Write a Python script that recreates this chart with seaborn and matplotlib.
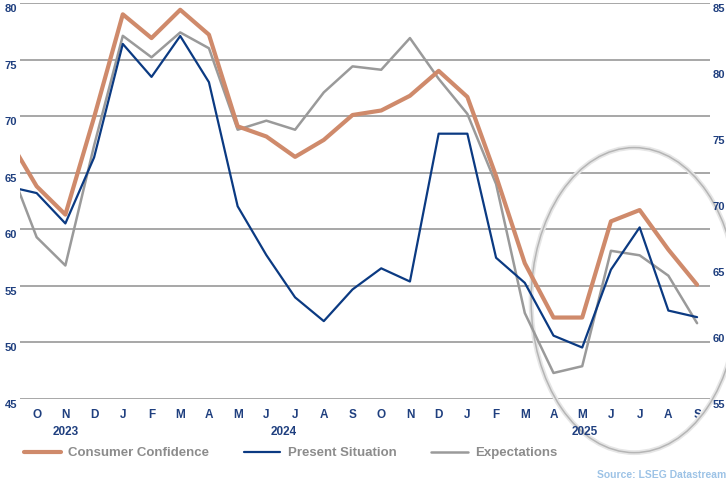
import pandas as pd
import matplotlib
matplotlib.use("Agg")
import matplotlib.pyplot as plt
import matplotlib.transforms as mtransforms
from matplotlib.patches import Ellipse
import seaborn as sns

# monthly series, Sep 2023 .. Sep 2025 (Sep 2023 sits just left of the visible window)
months = ["S", "O", "N", "D", "J", "F", "M", "A", "M", "J", "J", "A", "S",
          "O", "N", "D", "J", "F", "M", "A", "M", "J", "J", "A", "S"]
consumer_confidence = [68.1, 63.8, 61.3, 69.9, 79.0, 76.9, 79.4, 77.2, 69.1, 68.2, 66.4, 67.9, 70.1,
                       70.5, 71.8, 74.0, 71.7, 64.7, 57.0, 52.2, 52.2, 60.7, 61.7, 58.2, 55.1]
present_situation = [71.1, 70.6, 68.3, 73.3, 81.9, 79.4, 82.5, 79.0, 69.6, 65.9, 62.7, 60.9, 63.3,
                     64.9, 63.9, 75.1, 75.1, 65.7, 63.8, 59.8, 58.9, 64.8, 68.0, 61.7, 61.2]
expectations = [65.9, 59.3, 56.8, 67.4, 77.1, 75.2, 77.4, 76.0, 68.8, 69.6, 68.8, 72.1, 74.4,
                74.1, 76.9, 73.3, 70.2, 64.0, 52.6, 47.3, 47.9, 58.1, 57.7, 55.9, 51.7]
years = ["2023", "2024", "2025"]
year_pos = [2, 9.6, 20.1]
left_ticks = [45, 50, 55, 60, 65, 70, 75, 80]
right_ticks = [55, 60, 65, 70, 75, 80, 85]

df = pd.DataFrame({
    "idx": range(len(months)),
    "Consumer Confidence": consumer_confidence,
    "Present Situation": present_situation,
    "Expectations": expectations,
})

# colours
ORANGE = "#cf8a6b"
NAVY = "#0b3a82"
GREY = "#9a9a9a"
TICK = "#1f3f7f"

sns.set_style("white")
plt.rcParams["font.family"] = ["Liberation Sans", "DejaVu Sans"]

fig = plt.figure(figsize=(7.26, 4.82), dpi=100)
ax = fig.add_axes([20 / 726, 1 - 399 / 482, 690 / 726, 396 / 482])
ax2 = ax.twinx()

sns.lineplot(data=df, x="idx", y="Expectations", ax=ax, color=GREY, lw=1.8, legend=False)
sns.lineplot(data=df, x="idx", y="Consumer Confidence", ax=ax, color=ORANGE, lw=3.0, legend=False)
sns.lineplot(data=df, x="idx", y="Present Situation", ax=ax2, color=NAVY, lw=1.6, legend=False)

ax.set_xlim(0.42, 24.45)
ax.set_ylim(45, 80)
ax2.set_ylim(55, 85)
ax.set_yticks(left_ticks)
ax2.set_yticks(right_ticks)
ax.set_xticks(range(1, len(months)))
ax.set_xticklabels(months[1:])
for a in (ax, ax2):
    a.set_xlabel("")
    a.set_ylabel("")
    for s in a.spines.values():
        s.set_visible(False)
    a.tick_params(length=0, colors=TICK, labelsize=8)
ax.tick_params(axis="x", labelsize=8.5, pad=7)
ax.tick_params(axis="y", pad=2)
ax2.tick_params(axis="y", pad=2)
for lab in ax.get_xticklabels() + ax.get_yticklabels() + ax2.get_yticklabels():
    lab.set_fontweight("bold")

# value labels sit a few pixels below their gridlines
shift = mtransforms.ScaledTranslation(0, -5 / 100, fig.dpi_scale_trans)
for lab in ax.get_yticklabels() + ax2.get_yticklabels():
    lab.set_transform(lab.get_transform() + shift)

ax.yaxis.grid(True, color="#8f8f8f", lw=1.1)
ax.xaxis.grid(False)
ax.set_axisbelow(True)

# year labels under the months
trans = mtransforms.blended_transform_factory(ax.transData, fig.transFigure)
for yr, xp in zip(years, year_pos):
    ax.text(xp, 1 - 432 / 482, yr, transform=trans, ha="center", va="center",
            fontsize=8.5, fontweight="bold", color=TICK)

# highlight ring around the 2025 dip
ring = Ellipse((21.81, 53.74), 7.18, 26.96, fill=False, edgecolor="#e6e6e6", lw=3.5, clip_on=False)
ax.add_patch(ring)
ring = Ellipse((21.81, 53.74), 7.18, 26.96, fill=False, edgecolor="#b5b5b5", lw=1.1, clip_on=False)
ax.add_patch(ring)

handles = [ax.lines[1], ax2.lines[0], ax.lines[0]]
labels = ["Consumer Confidence", "Present Situation", "Expectations"]
leg = fig.legend(handles, labels, loc="center left", bbox_to_anchor=(24 / 726, 1 - 453 / 482),
                 ncol=3, frameon=False, borderpad=0, borderaxespad=0, handlelength=2.8,
                 handletextpad=0.55, columnspacing=2.6,
                 prop={"size": 9.5, "weight": "bold"})
for t in leg.get_texts():
    t.set_color("#8c8c8c")

fig.text(1.0, 1 - 475 / 482, "Source: LSEG Datastream", ha="right", va="center",
         fontsize=7.5, fontweight="bold", color="#9dc3e6")

fig.savefig("out.png", dpi=100)
